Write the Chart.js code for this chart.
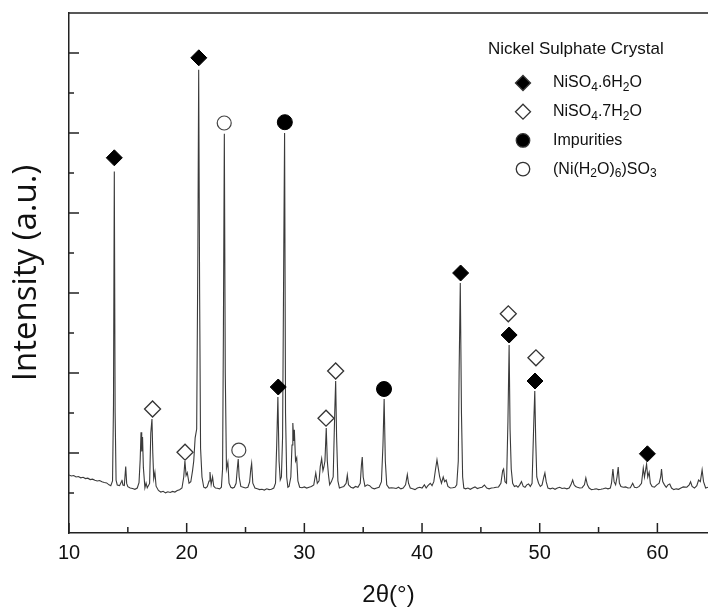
<!DOCTYPE html>
<html>
<head>
<meta charset="utf-8">
<script src="https://cdn.jsdelivr.net/npm/chart.js@4"></script>
<style>
html, body { margin: 0; padding: 0; background: #fff; }
canvas { display: block; }
</style>
</head>
<body>
<canvas id="xrdChart" width="708" height="612"></canvas>
<script>
var AXIS_COLOR = '#222';
var TRACE_COLOR = '#3a3a3a';
var TICK_FONT = "'Liberation Sans Narrow', 'Liberation Sans', Arial, sans-serif";
var LEGEND_FONT = "'Liberation Sans', Arial, sans-serif";

// diffraction pattern, 2-theta in degrees vs counts
var twoTheta = [
	10.0, 10.2, 10.4, 10.6, 10.8, 11.0, 11.2, 11.4, 11.6, 11.8, 12.0, 12.2, 12.4, 12.6, 12.8, 13.0, 13.2, 13.4, 13.55,
	13.7, 13.78, 13.85, 13.92, 14.0, 14.1, 14.3, 14.45, 14.5, 14.58, 14.7, 14.82, 14.9, 15.0, 15.2, 15.4, 15.6, 15.8,
	15.95, 16.05, 16.12, 16.18, 16.25, 16.32, 16.45, 16.55, 16.65, 16.85, 16.95, 17.05, 17.12, 17.2, 17.3, 17.4,
	17.6, 17.8, 18.0, 18.2, 18.4, 18.6, 18.8, 19.0, 19.2, 19.4, 19.6, 19.75, 19.85, 19.95, 20.05, 20.2, 20.35,
	20.5, 20.6, 20.72, 20.85, 20.95, 21.02, 21.1, 21.18, 21.3, 21.45, 21.6, 21.75, 21.9, 21.98, 22.08, 22.2, 22.3,
	22.45, 22.6, 22.8, 22.95, 23.05, 23.12, 23.2, 23.28, 23.38, 23.5, 23.6, 23.75, 23.9, 24.05, 24.2, 24.3, 24.38,
	24.46, 24.6, 24.8, 25.0, 25.2, 25.35, 25.45, 25.52, 25.62, 25.8, 26.0, 26.2, 26.4, 26.6, 26.8, 27.0, 27.2,
	27.4, 27.55, 27.65, 27.75, 27.85, 27.95, 28.05, 28.15, 28.25, 28.32, 28.4, 28.5, 28.6, 28.7, 28.85, 28.95,
	29.02, 29.1, 29.15, 29.25, 29.35, 29.45, 29.6, 29.8, 30.0, 30.2, 30.4, 30.6, 30.8, 30.97, 31.1, 31.25, 31.35,
	31.47, 31.58, 31.66, 31.75, 31.86, 31.95, 32.05, 32.15, 32.3, 32.45, 32.58, 32.66, 32.74, 32.85, 32.98, 33.15,
	33.35, 33.55, 33.65, 33.75, 33.95, 34.15, 34.35, 34.55, 34.75, 34.85, 34.92, 35.0, 35.15, 35.35, 35.55, 35.75,
	35.95, 36.15, 36.35, 36.55, 36.68, 36.78, 36.88, 37.0, 37.2, 37.4, 37.6, 37.8, 38.0, 38.2, 38.4, 38.6, 38.75,
	38.85, 39.0, 39.2, 39.4, 39.6, 39.8, 40.0, 40.2, 40.35, 40.5, 40.7, 40.85, 41.0, 41.15, 41.27, 41.38, 41.5,
	41.65, 41.8, 41.92, 42.05, 42.2, 42.4, 42.6, 42.8, 42.95, 43.08, 43.15, 43.25, 43.35, 43.45, 43.55, 43.7, 43.9,
	44.1, 44.3, 44.5, 44.7, 44.9, 45.1, 45.3, 45.5, 45.7, 45.9, 46.1, 46.3, 46.5, 46.7, 46.85, 46.93, 47.05, 47.18,
	47.3, 47.4, 47.48, 47.58, 47.7, 47.85, 48.0, 48.15, 48.3, 48.45, 48.6, 48.75, 48.9, 49.05, 49.2, 49.35, 49.5,
	49.58, 49.66, 49.75, 49.9, 50.05, 50.2, 50.35, 50.44, 50.55, 50.7, 50.9, 51.1, 51.3, 51.5, 51.7, 51.9, 52.1,
	52.3, 52.5, 52.65, 52.8, 52.92, 53.05, 53.2, 53.4, 53.6, 53.8, 53.92, 54.05, 54.2, 54.4, 54.6, 54.8, 55.0,
	55.2, 55.4, 55.6, 55.8, 56.0, 56.1, 56.22, 56.32, 56.45, 56.57, 56.67, 56.77, 56.9, 57.1, 57.3, 57.5, 57.7,
	57.9, 58.05, 58.25, 58.45, 58.65, 58.8, 58.9, 59.0, 59.08, 59.18, 59.3, 59.4, 59.55, 59.75, 59.95, 60.15,
	60.28, 60.35, 60.45, 60.6, 60.75, 60.9, 61.05, 61.2, 61.4, 61.6, 61.8, 62.0, 62.2, 62.5, 62.7, 62.82, 62.95,
	63.15, 63.35, 63.5, 63.65, 63.8, 63.92, 64.1, 64.3
];
var intensity = [
	725, 712, 718, 700, 706, 690, 696, 680, 685, 668, 673, 660, 650, 656, 640, 632, 626, 602, 592,
	650, 1600, 4520, 1500, 660, 600, 592, 640, 665, 600, 594, 830, 620, 580, 562, 556, 546, 562,
	630, 920, 1260, 1020, 1200, 820, 565, 625, 565, 620, 1250, 1425, 1000, 680, 760, 585,
	532, 512, 522, 502, 516, 506, 520, 512, 530, 542, 562, 700, 900, 720, 755, 622, 640,
	780, 900, 1190, 1300, 3500, 5790, 3000, 1060, 700, 572, 562, 580, 650, 762, 605, 700, 585,
	562, 560, 552, 572, 800, 2500, 4990, 2000, 800, 885, 622, 572, 562, 572, 622, 800, 925,
	700, 582, 572, 562, 572, 640, 800, 870, 622, 562, 552, 542, 547, 537, 552, 542, 547,
	562, 622, 1100, 1700, 900, 662, 700, 1200, 3500, 5000, 1500, 700, 572, 582, 700, 1100,
	1375, 1150, 1290, 900, 940, 650, 572, 566, 576, 562, 572, 582, 602, 750, 622, 652, 830,
	930, 780, 825, 900, 1312, 900, 725, 602, 642, 700, 1500, 1900, 1200, 652, 562, 572,
	582, 622, 725, 602, 572, 562, 582, 572, 622, 850, 950, 700, 582, 602, 592, 562,
	552, 562, 572, 642, 1100, 1675, 900, 602, 562, 566, 562, 556, 572, 552, 562, 602, 730,
	622, 562, 552, 542, 562, 572, 562, 602, 562, 592, 622, 592, 642, 800, 915, 812, 700,
	622, 700, 642, 662, 582, 562, 566, 572, 602, 900, 2000, 3125, 1500, 700, 562, 552, 562,
	546, 562, 576, 556, 566, 572, 600, 562, 552, 562, 566, 572, 576, 622, 780, 800, 642, 622,
	1400, 2350, 1300, 800, 622, 582, 592, 572, 602, 642, 582, 572, 602, 612, 582, 622, 1400,
	1775, 1160, 700, 622, 582, 602, 700, 750, 642, 562, 552, 562, 546, 562, 572, 556, 562,
	552, 562, 602, 662, 602, 582, 572, 562, 566, 602, 688, 602, 562, 542, 546, 552, 542,
	546, 552, 562, 552, 562, 622, 800, 642, 602, 700, 825, 625, 582, 572, 576, 562, 566,
	622, 572, 566, 582, 622, 812, 700, 790, 862, 700, 760, 622, 582, 572, 602, 622,
	700, 800, 642, 602, 572, 602, 612, 562, 542, 552, 546, 562, 576, 572, 602, 640, 582,
	562, 592, 662, 642, 790, 642, 562, 572
];

// phase markers placed just above their reflections
var hexaTheta = [13.85, 21.03, 27.78, 43.28, 47.4, 49.6, 59.15];
var hexaMark = [4690, 5940, 1825, 3250, 2475, 1900, 990];
var heptaTheta = [17.1, 19.86, 31.84, 32.66, 47.33, 49.68];
var heptaMark = [1550, 1010, 1435, 2025, 2740, 2190];
var impTheta = [28.34, 36.77];
var impMark = [5135, 1800];
var sulphiteTheta = [23.19, 24.43];
var sulphiteMark = [5125, 1035];

var xTickValues = [10, 15, 20, 25, 30, 35, 40, 45, 50, 55, 60];
var yTickValues = [0, 500, 1000, 1500, 2000, 2500, 3000, 3500, 4000, 4500, 5000, 5500, 6000, 6500];

var legendTitle = 'Nickel Sulphate Crystal';
var legendLabels = ['NiSO_4.6H_2O', 'NiSO_4.7H_2O', 'Impurities', '(Ni(H_2O)_6)SO_3'];
var legendStyles = [
	{ shape: 'diamond', fill: '#000' },
	{ shape: 'diamond', fill: '#fff' },
	{ shape: 'circle', fill: '#000' },
	{ shape: 'circle', fill: '#fff' }
];

function toPoints(xs, ys) {
	return xs.map(function(x, i) { return { x: x, y: ys[i] }; });
}

function drawSymbol(ctx, style, x, y, r) {
	ctx.beginPath();
	if (style.shape === 'diamond') {
		ctx.moveTo(x, y - r);
		ctx.lineTo(x + r, y);
		ctx.lineTo(x, y + r);
		ctx.lineTo(x - r, y);
		ctx.closePath();
	} else {
		ctx.arc(x, y, r * 0.9, 0, Math.PI * 2);
	}
	ctx.fillStyle = style.fill;
	ctx.fill();
	ctx.lineWidth = 1.3;
	ctx.strokeStyle = '#333';
	ctx.stroke();
}

// text with "_n" marking a subscript digit
function drawFormula(ctx, text, x, y) {
	text.split(/(_\d)/).forEach(function(part) {
		if (!part) return;
		var sub = part.charAt(0) === '_';
		var s = sub ? part.slice(1) : part;
		ctx.font = (sub ? '12px ' : '16px ') + LEGEND_FONT;
		ctx.fillText(s, x, y + (sub ? 5 : 0));
		x += ctx.measureText(s).width;
	});
}

var frameTicks = {
	id: 'frameTicks',
	afterDatasetsDraw: function(chart) {
		var ctx = chart.ctx, area = chart.chartArea;
		var xs = chart.scales.x, ys = chart.scales.y;
		ctx.save();
		ctx.strokeStyle = AXIS_COLOR;
		ctx.lineWidth = 1.5;
		ctx.beginPath();
		ctx.moveTo(area.left, area.top);
		ctx.lineTo(area.right, area.top);
		xs.ticks.forEach(function(t) {
			var px = xs.getPixelForValue(t.value);
			var len = t.value % 10 === 0 ? 10 : 6;
			ctx.moveTo(px, area.bottom);
			ctx.lineTo(px, area.bottom - len);
		});
		ys.ticks.forEach(function(t) {
			if (t.value === 0 || t.value >= 6500) return;
			var py = ys.getPixelForValue(t.value);
			var len = t.value % 1000 === 0 ? 10 : 5;
			ctx.moveTo(area.left, py);
			ctx.lineTo(area.left + len, py);
		});
		ctx.stroke();
		ctx.restore();
	}
};

var phaseLegend = {
	id: 'phaseLegend',
	afterDraw: function(chart) {
		var ctx = chart.ctx;
		ctx.save();
		ctx.fillStyle = '#111';
		ctx.textBaseline = 'middle';
		ctx.font = '17px ' + LEGEND_FONT;
		ctx.fillText(legendTitle, 488, 49);
		legendLabels.forEach(function(label, i) {
			var y = 83 + i * 28.7;
			drawSymbol(ctx, legendStyles[i], 523, y, 7.5);
			ctx.fillStyle = '#111';
			drawFormula(ctx, label, 553, y);
		});
		ctx.restore();
	}
};

var ctx = document.getElementById('xrdChart');
var xrdChart = new Chart(ctx, {
	type: 'line',
	data: {
		datasets: [{
			label: 'pattern',
			data: toPoints(twoTheta, intensity),
			borderColor: TRACE_COLOR,
			borderWidth: 1.1,
			pointRadius: 0,
			tension: 0,
			order: 2
		}, {
			label: 'NiSO4.6H2O',
			data: toPoints(hexaTheta, hexaMark),
			showLine: false,
			pointStyle: 'rectRot',
			pointRadius: 8,
			pointBackgroundColor: '#000',
			pointBorderColor: '#000',
			pointBorderWidth: 1,
			order: 1
		}, {
			label: 'NiSO4.7H2O',
			data: toPoints(heptaTheta, heptaMark),
			showLine: false,
			pointStyle: 'rectRot',
			pointRadius: 8,
			pointBackgroundColor: '#fff',
			pointBorderColor: '#333',
			pointBorderWidth: 1.3,
			order: 1
		}, {
			label: 'Impurities',
			data: toPoints(impTheta, impMark),
			showLine: false,
			pointStyle: 'circle',
			pointRadius: 7.5,
			pointBackgroundColor: '#000',
			pointBorderColor: '#000',
			pointBorderWidth: 1,
			order: 1
		}, {
			label: '(Ni(H2O)6)SO3',
			data: toPoints(sulphiteTheta, sulphiteMark),
			showLine: false,
			pointStyle: 'circle',
			pointRadius: 7,
			pointBackgroundColor: '#fff',
			pointBorderColor: '#444',
			pointBorderWidth: 1.2,
			order: 1
		}]
	},
	options: {
		responsive: false,
		animation: false,
		devicePixelRatio: 1,
		layout: { autoPadding: false, padding: { top: 13, right: 0, left: 0, bottom: 0 } },
		plugins: {
			legend: { display: false },
			tooltip: { enabled: false }
		},
		scales: {
			x: {
				type: 'linear',
				min: 10,
				max: 64.3,
				afterBuildTicks: function(scale) {
					scale.ticks = xTickValues.map(function(v) { return { value: v }; });
				},
				afterFit: function(scale) {
					scale.height = 79;
					scale.paddingLeft = 0;
					scale.paddingRight = 0;
				},
				grid: { display: false, drawTicks: false },
				border: { display: true, color: AXIS_COLOR, width: 1.5 },
				ticks: {
					padding: 8,
					color: '#111',
					font: { family: TICK_FONT, size: 20 },
					maxRotation: 0,
					autoSkip: false,
					callback: function(v) { return v % 10 === 0 ? String(v) : ''; }
				},
				title: {
					display: true,
					text: '2θ(°)',
					color: '#111',
					font: { family: TICK_FONT, size: 24 },
					padding: { top: 0, bottom: 2 }
				}
			},
			y: {
				type: 'linear',
				min: 0,
				max: 6500,
				afterBuildTicks: function(scale) {
					scale.ticks = yTickValues.map(function(v) { return { value: v }; });
				},
				afterFit: function(scale) {
					scale.width = 69;
					scale.paddingTop = 0;
					scale.paddingBottom = 0;
				},
				grid: { display: false, drawTicks: false },
				border: { display: true, color: AXIS_COLOR, width: 1.5 },
				ticks: { display: false },
				title: {
					display: true,
					text: 'Intensity (a.u.)',
					color: '#111',
					font: { family: "'Open Sans', sans-serif", size: 33 },
					padding: { top: 7, bottom: 0 }
				}
			}
		}
	},
	plugins: [frameTicks, phaseLegend]
});
</script>
</body>
</html>
